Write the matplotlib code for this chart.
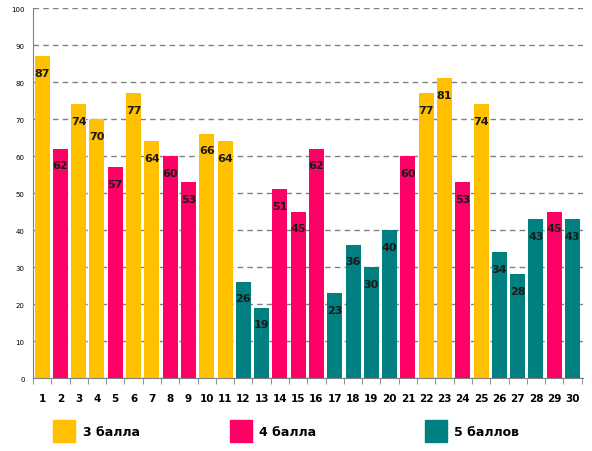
import matplotlib.pyplot as plt
from matplotlib.patches import Rectangle
from matplotlib.ticker import MultipleLocator
import numpy as np

# данные
nums = list(range(1, 31))
values = [87, 62, 74, 70, 57, 77, 64, 60, 53, 66, 64, 26, 19, 51, 45,
          62, 23, 36, 30, 40, 60, 77, 81, 53, 74, 34, 28, 43, 45, 43]
grades = [3, 4, 3, 3, 4, 3, 3, 4, 4, 3, 3, 5, 5, 4, 4,
          4, 5, 5, 5, 5, 4, 3, 3, 4, 3, 5, 5, 5, 4, 5]
legend_labels = {3: "3 балла", 4: "4 балла", 5: "5 баллов"}
colors = {3: "#FFC000", 4: "#FF0066", 5: "#008080"}

fig = plt.figure(figsize=(5.92, 4.52), dpi=100)
ax = fig.add_axes([0.0557, 0.1615, 0.929, 0.8185])

bar_colors = [colors[g] for g in grades]
ax.bar(nums, values, width=0.82, color=bar_colors, zorder=3)

for x, v in zip(nums, values):
    ax.text(x, v - 4.5, str(v), ha="center", va="center", fontsize=8,
            fontweight="bold", color="#1a1a1a", zorder=4)

ax.set_xlim(0.54, 30.57)
ax.set_ylim(0, 100)
ax.yaxis.set_major_locator(MultipleLocator(10))
ax.grid(axis="y", linestyle=(0, (4, 3)), color="#808080", linewidth=1, zorder=0)
ax.tick_params(axis="y", labelsize=5, length=0, pad=6)

ax.set_xticks(nums)
ax.set_xticklabels([str(n) for n in nums], fontsize=7.5, fontweight="bold")
ax.set_xticks(np.arange(0.5, 31, 1), minor=True)
ax.tick_params(axis="x", which="major", length=0, pad=11)
ax.tick_params(axis="x", which="minor", length=4, color="#808080", direction="out")

for s in ["top", "right"]:
    ax.spines[s].set_visible(False)
ax.spines["left"].set_color("#808080")
ax.spines["bottom"].set_color("#808080")

# легенда
W, H = 592, 452
for g, x0, tx in [(3, 53, 83), (4, 230, 259), (5, 425, 454)]:
    fig.add_artist(Rectangle((x0 / W, 1 - 443 / H), 22 / W, 22 / H,
                             transform=fig.transFigure, color=colors[g]))
    fig.text(tx / W, 1 - 433 / H, legend_labels[g], fontsize=9,
             fontweight="bold", va="center", ha="left")

fig.savefig("out.png", dpi=100)
